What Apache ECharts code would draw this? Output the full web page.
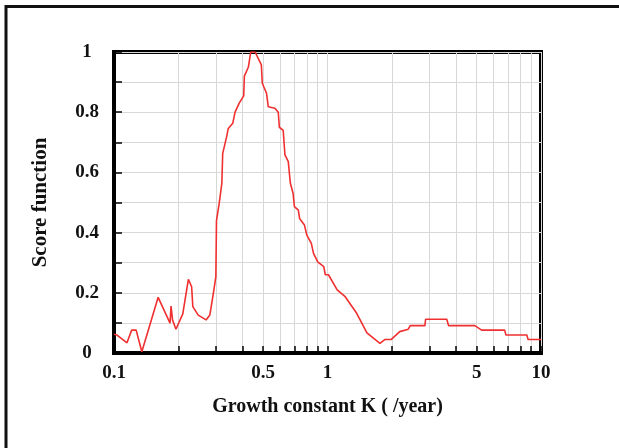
<!DOCTYPE html>
<html>
<head>
<meta charset="utf-8">
<script src="https://cdn.jsdelivr.net/npm/echarts@6/dist/echarts.min.js"></script>
<style>
html, body { margin: 0; padding: 0; background: #fff; }
#chart { width: 619px; height: 448px; }
</style>
</head>
<body>
<div id="chart"></div>
<script>
//横轴 K 值（对数坐标）与得分
var kValues = [0.1, 0.103, 0.115, 0.121, 0.127, 0.135, 0.161, 0.183, 0.185, 0.188,
	0.195, 0.21, 0.223, 0.231, 0.234, 0.248, 0.27, 0.281, 0.292, 0.3,
	0.302, 0.311, 0.32, 0.323, 0.337, 0.343, 0.36, 0.369, 0.386, 0.405,
	0.408, 0.426, 0.437, 0.458, 0.49, 0.495, 0.518, 0.528, 0.567, 0.588,
	0.595, 0.62, 0.632, 0.655, 0.67, 0.69, 0.7, 0.73, 0.74, 0.78,
	0.8, 0.84, 0.86, 0.9, 0.96, 0.977, 1.01, 1.11, 1.21, 1.37,
	1.53, 1.76, 1.86, 1.99, 2.18, 2.39, 2.44, 2.86, 2.88, 3.62,
	3.69, 4.9, 5.27, 6.76, 6.85, 8.58, 8.7, 10];
var scores = [0.062, 0.06, 0.034, 0.076, 0.076, 0.004, 0.185, 0.099, 0.156, 0.11,
	0.079, 0.13, 0.245, 0.22, 0.154, 0.126, 0.11, 0.126, 0.198, 0.254,
	0.44, 0.497, 0.564, 0.663, 0.719, 0.746, 0.763, 0.8, 0.83, 0.854,
	0.92, 0.95, 1.0, 1.0, 0.957, 0.896, 0.863, 0.818, 0.813, 0.8,
	0.75, 0.74, 0.658, 0.636, 0.564, 0.53, 0.486, 0.475, 0.447, 0.425,
	0.392, 0.364, 0.331, 0.303, 0.287, 0.26, 0.26, 0.21, 0.187, 0.132,
	0.067, 0.032, 0.045, 0.045, 0.071, 0.079, 0.091, 0.091, 0.112, 0.112,
	0.091, 0.091, 0.076, 0.076, 0.06, 0.06, 0.045, 0.045];
//刻度
var xTicks = [0.1, 0.2, 0.3, 0.4, 0.5, 0.6, 0.7, 0.8, 0.9, 1, 2, 3, 4, 5, 6, 7, 8, 9, 10];
var xLabels = [0.1, 0.5, 1, 5, 10];
var yLabels = [0, 0.2, 0.4, 0.6, 0.8, 1];

var seriesData = [];
for (var i = 0; i < kValues.length; i++) {
	seriesData.push([kValues[i], scores[i]]);
}

var font = "'Liberation Serif', 'Times New Roman', serif";
var chart = echarts.init(document.getElementById('chart'));
var option = {
	animation: false,
	backgroundColor: '#fff',
	graphic: [
		{ type: 'line', shape: { x1: 5, y1: 6.5, x2: 619, y2: 6.5 }, style: { stroke: '#111', lineWidth: 3 } },
		{ type: 'line', shape: { x1: 6, y1: 5, x2: 6, y2: 448 }, style: { stroke: '#111', lineWidth: 3 } }
	],
	grid: {
		left: 114,
		right: 78,
		top: 52,
		bottom: 95,
		show: true,
		borderColor: '#000',
		borderWidth: 4
	},
	xAxis: {
		type: 'log',
		logBase: 10,
		min: 0.1,
		max: 10,
		name: 'Growth constant K ( /year)',
		nameLocation: 'middle',
		nameGap: 44,
		nameTextStyle: { fontFamily: font, fontWeight: 'bold', fontSize: 20, color: '#111' },
		axisLine: { show: true, lineStyle: { color: '#000', width: 4 } },
		axisTick: { show: true, inside: true, length: 7, customValues: xTicks, lineStyle: { color: '#000', width: 1.5 } },
		axisLabel: {
			customValues: xLabels,
			margin: 11,
			fontFamily: font, fontWeight: 'bold', fontSize: 19, color: '#111',
			formatter: function (v) { return String(+Number(v).toPrecision(3)); }
		},
		splitLine: { show: true, lineStyle: { color: '#d8d8d8', width: 1 } },
		minorTick: { show: false },
		minorSplitLine: { show: false }
	},
	yAxis: {
		type: 'value',
		min: 0,
		max: 1,
		interval: 0.1,
		name: 'Score function',
		nameLocation: 'middle',
		nameGap: 63,
		nameTextStyle: { fontFamily: font, fontWeight: 'bold', fontSize: 21, color: '#111' },
		axisLine: { show: true, lineStyle: { color: '#000', width: 4 } },
		axisTick: { show: true, inside: true, length: 8, lineStyle: { color: '#000', width: 1.5 } },
		axisLabel: {
			customValues: yLabels,
			align: 'center',
			margin: 27,
			fontFamily: font, fontWeight: 'bold', fontSize: 19, color: '#111'
		},
		splitLine: { show: true, lineStyle: { color: '#d8d8d8', width: 1 } }
	},
	series: [{
		type: 'line',
		data: seriesData,
		showSymbol: false,
		symbol: 'none',
		clip: true,
		lineStyle: { color: '#f03030', width: 1.6 },
		z: 3
	}]
};
chart.setOption(option);
</script>
</body>
</html>
